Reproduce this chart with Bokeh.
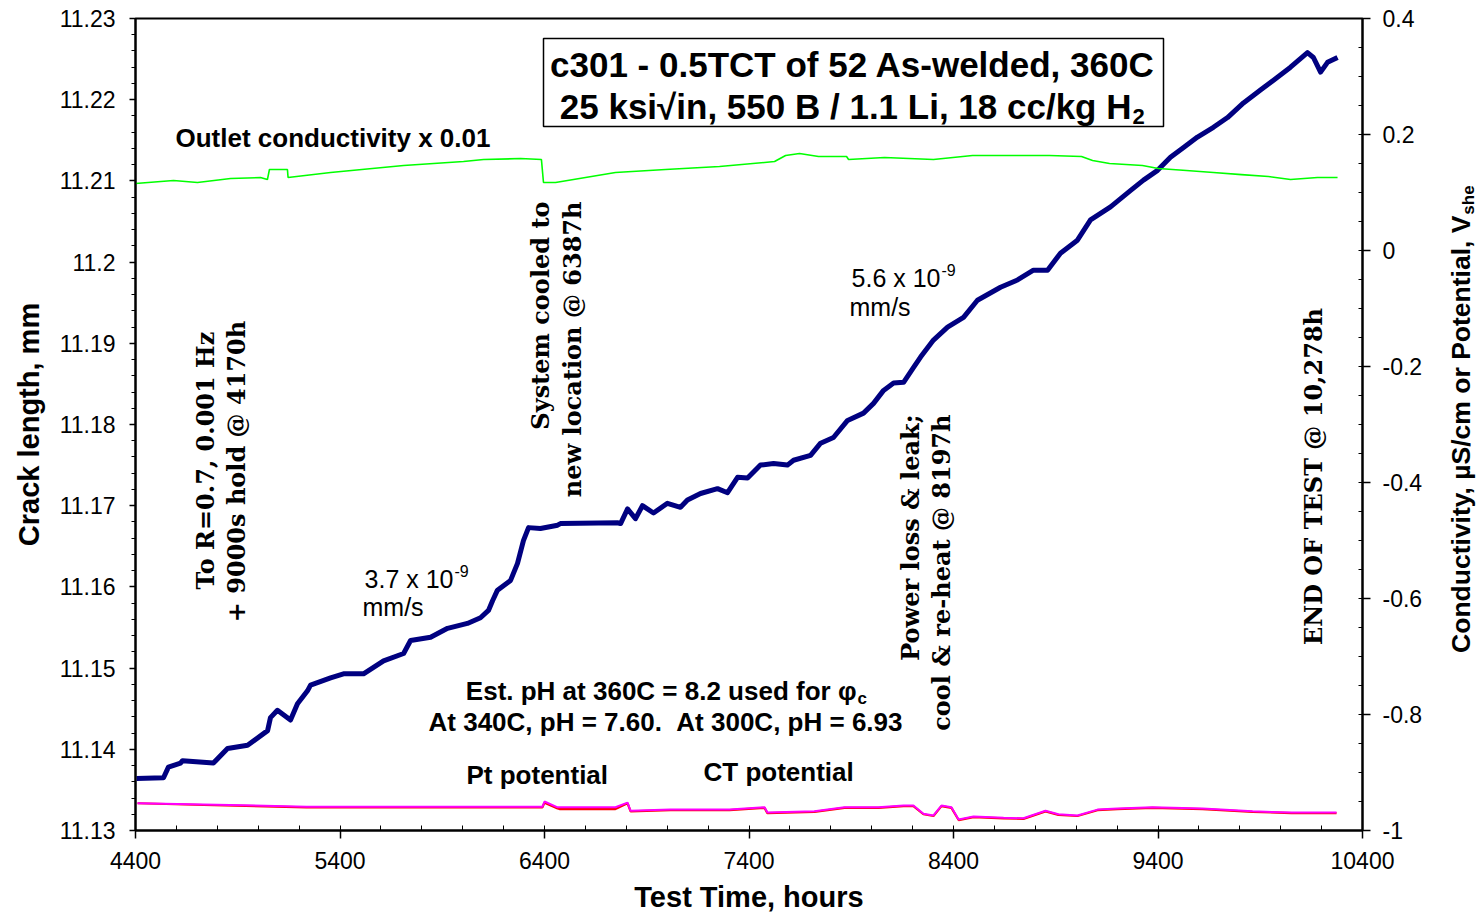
import math
from bokeh.plotting import figure
from bokeh.layouts import row
from bokeh.models import (Range1d, LinearAxis, SingleIntervalTicker, FixedTicker,
                          CustomJSTickFormatter, Label, BoxAnnotation)
from bokeh.embed import file_html
from bokeh.resources import INLINE

# ---------------- data ----------------
crack_hours = [4405, 4537, 4561, 4620, 4630, 4781, 4850, 4948, 5046, 5060,
               5094, 5158, 5192, 5241, 5256, 5354, 5417, 5515, 5613, 5711,
               5745, 5843, 5926, 6023, 6087, 6126, 6146, 6170, 6234, 6268,
               6297, 6322, 6380, 6464, 6478, 6757, 6772, 6806, 6845, 6879,
               6933, 7001, 7065, 7099, 7163, 7246, 7295, 7344, 7393, 7456,
               7520, 7588, 7618, 7701, 7750, 7813, 7882, 7960, 8009, 8058,
               8107, 8156, 8204, 8239, 8302, 8371, 8449, 8517, 8630, 8713,
               8791, 8860, 8923, 9006, 9070, 9168, 9265, 9329, 9398, 9461,
               9525, 9593, 9671, 9740, 9818, 9901, 9965, 10048, 10131, 10160,
               10195, 10229, 10278]
crack_mm = [11.1364, 11.1365, 11.1378, 11.1383, 11.1386, 11.1383, 11.1401, 11.1405, 11.1423, 11.1439,
            11.1448, 11.1436, 11.1456, 11.1472, 11.1479, 11.1488, 11.1493, 11.1493, 11.1509, 11.1518,
            11.1534, 11.1538, 11.1549, 11.1555, 11.1562, 11.1571, 11.1583, 11.1596, 11.1608, 11.1629,
            11.1657, 11.1673, 11.1672, 11.1676, 11.1678, 11.1679, 11.1678, 11.1696, 11.1684, 11.1700,
            11.1691, 11.1703, 11.1698, 11.1707, 11.1715, 11.1721, 11.1716, 11.1735, 11.1734, 11.1750,
            11.1752, 11.1750, 11.1756, 11.1762, 11.1777, 11.1784, 11.1805, 11.1814, 11.1826, 11.1842,
            11.1851, 11.1852, 11.1870, 11.1883, 11.1904, 11.1920, 11.1932, 11.1953, 11.1969, 11.1978,
            11.1990, 11.1990, 11.2011, 11.2027, 11.2052, 11.2068, 11.2088, 11.2101, 11.2113, 11.2129,
            11.2141, 11.2154, 11.2166, 11.2178, 11.2196, 11.2212, 11.2224, 11.2240, 11.2258, 11.2252,
            11.2234, 11.2246, 11.2252]

cond_hours = [4400, 4586, 4703, 4865, 5011, 5045, 5055, 5143, 5146, 5354,
              5711, 6004, 6102, 6283, 6385, 6395, 6454, 6747, 6992, 7256,
              7525, 7579, 7647, 7740, 7877, 7887, 8063, 8302, 8493, 8869,
              9026, 9080, 9163, 9324, 9402, 9539, 9671, 9808, 9940, 10048,
              10180, 10278]
cond_x001 = [0.1154, 0.1206, 0.1172, 0.1241, 0.1258, 0.1223, 0.1396, 0.1396, 0.1258, 0.1344,
             0.1465, 0.1534, 0.1568, 0.1585, 0.1568, 0.1172, 0.1172, 0.1344, 0.1396, 0.1447,
             0.1534, 0.1637, 0.1671, 0.1620, 0.1620, 0.1568, 0.1603, 0.1568, 0.1637, 0.1637,
             0.1620, 0.1551, 0.1499, 0.1465, 0.1413, 0.1378, 0.1344, 0.1309, 0.1275, 0.1223,
             0.1258, 0.1258]

pot_hours = [4410, 4733, 5236, 6390, 6400, 6464, 6473, 6747, 6806, 6821,
             7016, 7305, 7476, 7490, 7720, 7867, 8033, 8156, 8204, 8253,
             8302, 8341, 8390, 8425, 8498, 8645, 8742, 8850, 8913, 9006,
             9104, 9202, 9373, 9618, 9862, 10053, 10273]
ct_potential = [-0.953, -0.955, -0.959, -0.959, -0.950, -0.960, -0.960, -0.960, -0.952, -0.966,
                -0.964, -0.964, -0.960, -0.969, -0.967, -0.960, -0.960, -0.957, -0.957, -0.971,
                -0.974, -0.957, -0.960, -0.981, -0.976, -0.978, -0.979, -0.966, -0.972, -0.974,
                -0.964, -0.962, -0.960, -0.962, -0.967, -0.969, -0.969]
pt_potential = [-0.953, -0.956, -0.960, -0.960, -0.952, -0.962, -0.963, -0.963, -0.953, -0.967,
                -0.965, -0.965, -0.961, -0.970, -0.968, -0.961, -0.961, -0.958, -0.958, -0.972,
                -0.975, -0.958, -0.961, -0.982, -0.977, -0.979, -0.980, -0.967, -0.973, -0.975,
                -0.965, -0.963, -0.961, -0.963, -0.968, -0.970, -0.970]

x_major_ticks = [4400, 5400, 6400, 7400, 8400, 9400, 10400]
x_minor_step = 200
left_range = (11.13, 11.23)
right_range = (-1.0, 0.4)
x_range = (4400, 10400)

# ---------------- figure ----------------
W, H = 1480, 923
SIDE_W = 40                      # strip that holds the right axis title
MAIN_W = W - SIDE_W
FRAME_L, FRAME_R, FRAME_T, FRAME_B = 135, 1362, 18, 830


def sx(px):
    return x_range[0] + (px - FRAME_L) * (x_range[1] - x_range[0]) / (FRAME_R - FRAME_L)


def sy(py):
    return left_range[0] + (FRAME_B - py) * (left_range[1] - left_range[0]) / (FRAME_B - FRAME_T)


p = figure(width=MAIN_W, height=H,
           x_range=Range1d(*x_range), y_range=Range1d(*left_range),
           output_backend="svg", toolbar_location=None,
           min_border_left=FRAME_L, min_border_right=MAIN_W - FRAME_R,
           min_border_top=FRAME_T, min_border_bottom=H - FRAME_B,
           x_axis_label="Test Time, hours", y_axis_label="Crack length, mm")
p.grid.visible = False
p.outline_line_color = "black"
p.outline_line_width = 2
p.background_fill_color = "white"
p.border_fill_color = "white"
p.extra_y_ranges = {"right": Range1d(*right_range)}

SANS = "Liberation Sans"
SERIF = "DejaVu Serif"


def style_axis(ax):
    ax.axis_line_width = 2
    ax.axis_line_color = "black"
    ax.major_tick_line_color = "black"
    ax.minor_tick_line_color = "black"
    ax.major_tick_line_width = 1.5
    ax.minor_tick_line_width = 1
    ax.major_label_text_font = SANS
    ax.major_label_text_font_size = "23px"
    ax.major_label_text_color = "black"
    ax.axis_label_text_font = SANS
    ax.axis_label_text_font_style = "bold"
    ax.axis_label_text_font_size = "29px"
    ax.axis_label_text_color = "black"


xa = p.xaxis[0]
style_axis(xa)
xa.ticker = FixedTicker(ticks=x_major_ticks,
                        minor_ticks=list(range(x_range[0], x_range[1] + 1, x_minor_step)))
xa.major_tick_out = 8
xa.major_tick_in = 0
xa.minor_tick_out = 0
xa.minor_tick_in = 5
xa.major_label_standoff = 13
xa.axis_label_standoff = 9

ya = p.yaxis[0]
style_axis(ya)
ya.ticker = SingleIntervalTicker(interval=0.01, num_minor_ticks=5)
ya.formatter = CustomJSTickFormatter(code="return String(Number(tick.toFixed(2)));")
ya.major_tick_out = 6
ya.major_tick_in = 0
ya.minor_tick_out = 4
ya.minor_tick_in = 0
ya.major_label_standoff = 14
ya.axis_label_standoff = 12

ra = LinearAxis(y_range_name="right")
style_axis(ra)
ra.ticker = SingleIntervalTicker(interval=0.2, num_minor_ticks=4)
ra.formatter = CustomJSTickFormatter(code="return String(Number(tick.toFixed(1)));")
ra.major_tick_out = 8
ra.major_tick_in = 0
ra.minor_tick_out = 0
ra.minor_tick_in = 4
ra.major_label_standoff = 12
p.add_layout(ra, "right")

# ---------------- series ----------------
p.line(crack_hours, crack_mm, line_color="#000080", line_width=5, line_join="round")
p.line(cond_hours, cond_x001, line_color="#00ff00", line_width=1.6, y_range_name="right")
p.line(pot_hours, pt_potential, line_color="#ff0000", line_width=2.2, y_range_name="right")
p.line(pot_hours, ct_potential, line_color="#ff00ff", line_width=2.0, y_range_name="right")

# ---------------- annotations ----------------
p.add_layout(BoxAnnotation(left=sx(543), right=sx(1163), top=sy(38), bottom=sy(126),
                           fill_color="white", fill_alpha=1.0,
                           line_color="black", line_width=1.5, line_alpha=1.0))


def lab(fig, x, y, text, size, align="left", bold=True, font=SANS, angle=0.0):
    fig.add_layout(Label(x=x, y=y, text=text, text_align=align,
                         text_baseline="middle", text_font=font,
                         text_font_size=f"{size}px",
                         text_font_style="bold" if bold else "normal",
                         text_color="black", angle=angle))


def plab(text, px, py, size, align="left", bold=True, font=SANS, angle=0.0):
    lab(p, sx(px), sy(py), text, size, align, bold, font, angle)


NB = "\u00a0"
plab("c301 - 0.5TCT of 52 As-welded, 360C", 852, 64, 35, "center")
plab("25 ksi\u221ain, 550 B / 1.1 Li, 18 cc/kg H", 1131, 106, 35, "right")
plab("2", 1132, 116, 22, "left")

plab("Outlet conductivity x 0.01", 175, 137, 26)

plab("3.7 x 10", 453, 578, 25, "right", bold=False)
plab("-9", 454, 570, 16, "left", bold=False)
plab("mm/s", 362, 606, 25, "left", bold=False)

plab("5.6 x 10", 940, 277, 25, "right", bold=False)
plab("-9", 941, 269, 16, "left", bold=False)
plab("mm/s", 849, 306, 25, "left", bold=False)

plab("Est. pH at 360C = 8.2 used for \u03c6", 856, 690, 26, "right")
plab("c", 857, 698, 17, "left")
plab("At 340C, pH = 7.60." + NB + NB + "At 300C, pH = 6.93", 665, 721, 26, "center")

plab("Pt potential", 466, 774, 26)
plab("CT potential", 703, 771, 26)

A = math.pi / 2
plab("To R=0.7, 0.001 Hz", 205, 460, 24, "center", font=SERIF, angle=A)
plab("+ 9000s hold @ 4170h", 236, 471, 24, "center", font=SERIF, angle=A)
plab("System cooled to", 540, 201, 24, "right", font=SERIF, angle=A)
plab("new location @ 6387h", 572, 201, 24, "right", font=SERIF, angle=A)
plab("Power loss & leak;", 910, 414, 24, "right", font=SERIF, angle=A)
plab("cool & re-heat @ 8197h", 941, 414, 24, "right", font=SERIF, angle=A)
plab("END OF TEST @ 10,278h", 1313, 476, 24, "center", font=SERIF, angle=A)

# ---------------- right axis title strip ----------------
side = figure(width=SIDE_W, height=H, x_range=Range1d(0, SIDE_W), y_range=Range1d(0, H),
              output_backend="svg", toolbar_location=None,
              min_border=0, min_border_left=0, min_border_right=0,
              min_border_top=0, min_border_bottom=0)
side.axis.visible = False
side.grid.visible = False
side.outline_line_color = None
side.background_fill_color = "white"
side.border_fill_color = "white"
lab(side, 20, H - 224, "Conductivity, \u00b5S/cm or Potential, V", 26.5, "right", angle=A)
lab(side, 28, H - 223, "she", 17, "left", angle=A)

layout = row(p, side, spacing=0)
open("out.html", "w").write(file_html(layout, INLINE))
